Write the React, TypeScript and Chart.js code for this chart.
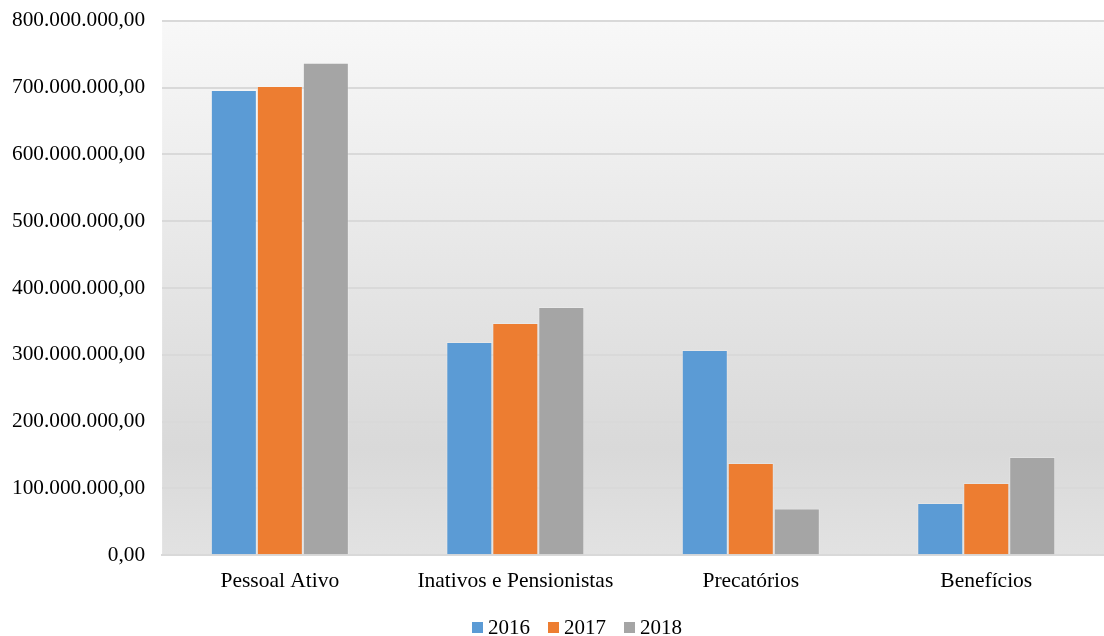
import React, { useEffect, useRef } from "react";
import { Chart, registerables } from "chart.js";

Chart.register(...registerables);

const categories = ["Pessoal Ativo", "Inativos e Pensionistas", "Precatórios", "Benefícios"];
const series2016 = [696500000, 319000000, 307000000, 78000000];
const series2017 = [702500000, 347500000, 138000000, 108000000];
const series2018 = [737000000, 371500000, 70000000, 147000000];
const seriesLabels = ["2016", "2017", "2018"];
const seriesColors = ["#5b9bd5", "#ed7d31", "#a5a5a5"];
const yTicks = [0, 100000000, 200000000, 300000000, 400000000, 500000000, 600000000, 700000000, 800000000];

const fmt = (v: number) => {
  const s = Math.round(v).toString().replace(/\B(?=(\d{3})+(?!\d))/g, ".");
  return s + ",00";
};

const FONT = "'Liberation Serif', 'Times New Roman', serif";

const bgPlugin = {
  id: "plotBg",
  beforeDraw(chart: any) {
    const { ctx, chartArea } = chart;
    if (!chartArea) return;
    const g = ctx.createLinearGradient(0, chartArea.top, 0, chartArea.bottom);
    g.addColorStop(0, "#f8f8f8");
    g.addColorStop(0.8, "#d9d9d9");
    g.addColorStop(1, "#e2e2e2");
    ctx.save();
    ctx.fillStyle = g;
    ctx.fillRect(chartArea.left, chartArea.top, chartArea.right - chartArea.left, chartArea.bottom - chartArea.top);
    ctx.restore();
  },
};

const legendPlugin = {
  id: "customLegend",
  afterDraw(chart: any) {
    const { ctx } = chart;
    const box = 11;
    const gap = 5;
    const itemGap = 18;
    ctx.save();
    ctx.font = `21px ${FONT}`;
    ctx.textBaseline = "middle";
    ctx.fillStyle = "#000";
    const items = chart.data.datasets.map((ds: any) => ({
      label: ds.label,
      color: ds.backgroundColor,
      w: ctx.measureText(ds.label).width,
    }));
    const total = items.reduce((s: number, it: any) => s + box + gap + it.w, 0) + itemGap * (items.length - 1);
    let x = 577 - total / 2;
    const cy = chart.height - 8;
    items.forEach((it: any) => {
      ctx.fillStyle = it.color;
      ctx.fillRect(x, cy - box / 2 - 0.5, box, box);
      x += box + gap;
      ctx.fillStyle = "#000";
      ctx.fillText(it.label, x, cy);
      x += it.w + itemGap;
    });
    ctx.restore();
  },
};

export default function App() {
  const ref = useRef<HTMLCanvasElement | null>(null);
  useEffect(() => {
    if (!ref.current) return;
    const data = [series2016, series2017, series2018];
    const chart = new Chart(ref.current, {
      type: "bar",
      data: {
        labels: categories,
        datasets: data.map((d, i) => ({
          label: seriesLabels[i],
          data: d,
          backgroundColor: seriesColors[i],
          borderColor: "rgba(255,255,255,0.22)",
          borderWidth: 1,
          barPercentage: 1,
          categoryPercentage: 0.586,
        })),
      },
      options: {
        animation: false,
        responsive: true,
        maintainAspectRatio: false,
        layout: { padding: { left: -5, top: 0, right: 0, bottom: 29 } },
        plugins: {
          legend: { display: false },
          tooltip: { enabled: false },
        },
        scales: {
          x: {
            grid: { display: false, drawTicks: false },
            border: { display: true, color: "#d9d9d9", width: 2 },
            ticks: {
              font: { family: FONT, size: 21.5 },
              color: "#000",
              padding: 13,
              maxRotation: 0,
            },
          },
          y: {
            min: 0,
            max: 800000000,
            afterBuildTicks: (axis: any) => {
              axis.ticks = yTicks.map((v) => ({ value: v }));
            },
            grid: { color: "#d9d9d9", lineWidth: 2, drawTicks: false },
            border: { display: false },
            ticks: {
              font: { family: FONT, size: 21.3 },
              color: "#000",
              padding: 17,
              callback: (v: any) => fmt(Number(v)),
            },
          },
        },
      },
      plugins: [bgPlugin, legendPlugin],
    });
    return () => chart.destroy();
  }, []);
  return (
    <div style={{ position: "fixed", left: 0, top: -9, width: 1104, height: 645 }}>
      <canvas ref={ref} />
    </div>
  );
}
